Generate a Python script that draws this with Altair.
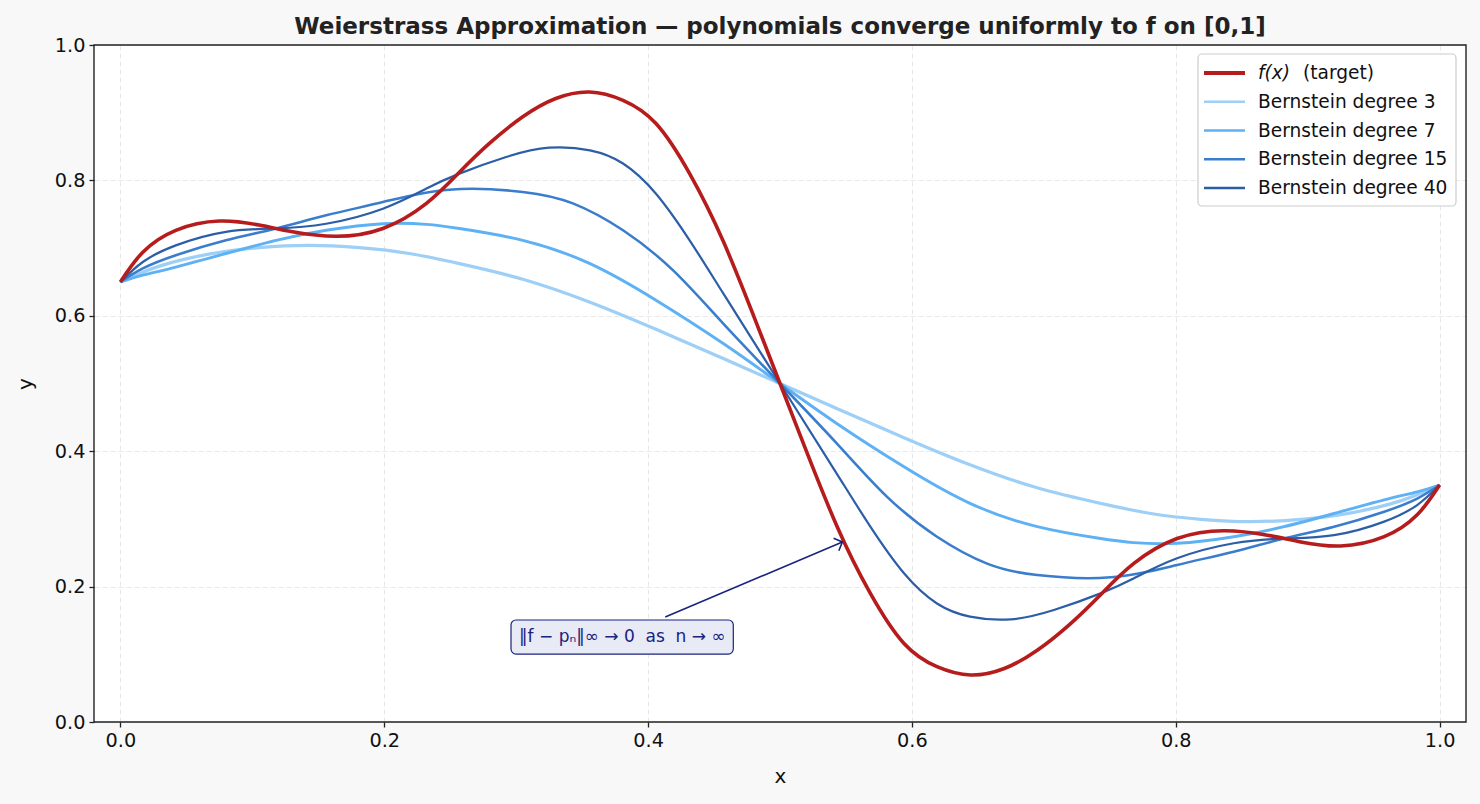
import altair as alt
import pandas as pd

NBSP = "\u00a0"

# Series names, colours and line widths (legend order)
series_names = [
    "f(x)  (target)",
    "Bernstein degree 3",
    "Bernstein degree 7",
    "Bernstein degree 15",
    "Bernstein degree 40",
]
series_colors = ["#b71c1c", "#9ecff7", "#5eb1f4", "#3a7dcd", "#2c5ea8"]
series_widths = [3.6, 2.2, 2.2, 2.2, 2.2]

# Target function f(x)
f_x = [0, 0.017, 0.042, 0.075, 0.1052, 0.1305, 0.1634, 0.199, 0.232, 0.257, 0.2795,
       0.305, 0.330, 0.3556, 0.381, 0.406, 0.4315, 0.457, 0.482, 0.5, 0.518, 0.543,
       0.5685, 0.594, 0.619, 0.6444, 0.670, 0.695, 0.7205, 0.743, 0.768, 0.801,
       0.8366, 0.8695, 0.8948, 0.925, 0.958, 0.983, 1.0]
f_y = [0.650, 0.694, 0.7263, 0.740, 0.734, 0.724, 0.7174, 0.729, 0.766, 0.812, 0.8542,
       0.894, 0.921, 0.9306, 0.9183, 0.884, 0.810, 0.710, 0.590, 0.500, 0.410, 0.290,
       0.190, 0.116, 0.0817, 0.0694, 0.079, 0.106, 0.1458, 0.188, 0.234, 0.271,
       0.2826, 0.276, 0.266, 0.260, 0.2737, 0.306, 0.350]

# Bernstein polynomial of degree 3
b3_x = [0, 0.029, 0.067, 0.105, 0.143, 0.181, 0.219, 0.257, 0.305, 0.356, 0.406, 0.457,
        0.5, 0.543, 0.594, 0.644, 0.695, 0.743, 0.781, 0.819, 0.857, 0.895, 0.933, 0.971, 1.0]
b3_y = [0.650, 0.673, 0.691, 0.7006, 0.704, 0.7006, 0.692, 0.677, 0.654, 0.620, 0.580, 0.537,
        0.500, 0.463, 0.420, 0.380, 0.346, 0.323, 0.308, 0.2994, 0.296, 0.2994, 0.309, 0.327, 0.350]

# Bernstein polynomial of degree 7
b7_x = [0, 0.017, 0.042, 0.080, 0.118, 0.156, 0.199, 0.232, 0.257, 0.305, 0.356, 0.406,
        0.457, 0.5, 0.543, 0.594, 0.644, 0.695, 0.743, 0.768, 0.801, 0.844, 0.882, 0.920,
        0.958, 0.983, 1.0]
b7_y = [0.650, 0.660, 0.672, 0.692, 0.7115, 0.7263, 0.736, 0.735, 0.729, 0.7115, 0.677, 0.623,
        0.559, 0.500, 0.441, 0.377, 0.323, 0.2885, 0.271, 0.265, 0.264, 0.2737, 0.2885, 0.308,
        0.328, 0.340, 0.350]

# Bernstein polynomial of degree 15
b15_x = [0, 0.017, 0.042, 0.080, 0.118, 0.156, 0.199, 0.2492, 0.305, 0.343, 0.381, 0.419,
         0.457, 0.5, 0.543, 0.581, 0.619, 0.657, 0.695, 0.7508, 0.801, 0.844, 0.882, 0.920,
         0.958, 0.983, 1.0]
b15_y = [0.650, 0.670, 0.6894, 0.7115, 0.729, 0.7484, 0.768, 0.7863, 0.783, 0.766, 0.7263, 0.667,
         0.5884, 0.500, 0.4116, 0.333, 0.2737, 0.234, 0.217, 0.2137, 0.232, 0.2516, 0.271, 0.2885,
         0.3106, 0.330, 0.350]

# Bernstein polynomial of degree 40
b40_x = [0, 0.017, 0.042, 0.080, 0.118, 0.156, 0.199, 0.232, 0.257, 0.2924, 0.325, 0.356,
         0.381, 0.406, 0.4315, 0.457, 0.5, 0.543, 0.5685, 0.594, 0.619, 0.644, 0.675, 0.7076,
         0.743, 0.768, 0.801, 0.844, 0.882, 0.920, 0.958, 0.983, 1.0]
b40_y = [0.650, 0.6795, 0.704, 0.724, 0.729, 0.736, 0.7582, 0.788, 0.810, 0.8346, 0.8483, 0.8444,
         0.825, 0.7804, 0.7115, 0.633, 0.500, 0.367, 0.2885, 0.2196, 0.175, 0.1556, 0.1517, 0.1654,
         0.190, 0.212, 0.2418, 0.264, 0.271, 0.276, 0.296, 0.3205, 0.350]

tick_values = [0.0, 0.2, 0.4, 0.6, 0.8, 1.0]

# Annotation: label box, label anchor and arrow
note_text = "‖f − pₙ‖∞ → 0" + NBSP * 2 + "as" + NBSP * 2 + "n → ∞"
note_pos = (0.3805, 0.1256)
note_box_x = (0.2961, 0.4646)
note_box_y = (0.1004, 0.1507)
arrow_from = (0.413, 0.155)
arrow_to = (0.5473, 0.266)

PLOT_W, PLOT_H = 1372, 677
INK = "#222222"
NAVY = "#1a237e"
FONT = "DejaVu Sans"

# Legend layout inside the plot area (pixels from the plot's top-left corner)
LEG_LEFT, LEG_RIGHT, LEG_TOP, LEG_BOTTOM = 1104, 1362, 9, 161
LEG_FIRST_ROW, LEG_ROW_STEP = 28, 28.75
LEG_LINE_X0, LEG_LINE_X1, LEG_TEXT_X = 1110, 1151, 1164

frames = []
for name, xs, ys in [
    (series_names[1], b3_x, b3_y),
    (series_names[2], b7_x, b7_y),
    (series_names[3], b15_x, b15_y),
    (series_names[4], b40_x, b40_y),
    (series_names[0], f_x, f_y),
]:
    frames.append(pd.DataFrame({"x": xs, "y": ys, "series": name}))
curves = pd.concat(frames, ignore_index=True)

x_enc = alt.X(
    "x:Q",
    scale=alt.Scale(domain=[-0.02, 1.02], nice=False, zero=False),
    axis=alt.Axis(values=tick_values, format=".1f", title="x"),
)
y_enc = alt.Y(
    "y:Q",
    scale=alt.Scale(domain=[0, 1], nice=False),
    axis=alt.Axis(values=tick_values, format=".1f", title="y"),
)
color_enc = alt.Color(
    "series:N", scale=alt.Scale(domain=series_names, range=series_colors), legend=None
)
width_enc = alt.StrokeWidth(
    "series:N", scale=alt.Scale(domain=series_names, range=series_widths), legend=None
)

base = alt.Chart(curves).mark_line(interpolate="natural").encode(
    x=x_enc, y=y_enc, color=color_enc, strokeWidth=width_enc, detail="series:N"
)
blue_lines = base.transform_filter(alt.datum.series != series_names[0])
red_line = base.transform_filter(alt.datum.series == series_names[0])

one_row = pd.DataFrame({"k": [0]})

# Axes frame drawn over the curves and grid
frame = alt.Chart(one_row).mark_rect(
    fillOpacity=0, stroke=INK, strokeWidth=1.4
).encode(
    x=alt.value(0), x2=alt.value(PLOT_W), y=alt.value(0), y2=alt.value(PLOT_H)
)

# Legend: box, sample lines and labels
legend_layers = [
    alt.Chart(one_row).mark_rect(
        fill="white", fillOpacity=0.92, stroke="#cccccc", strokeWidth=1.2, cornerRadius=4
    ).encode(
        x=alt.value(LEG_LEFT), x2=alt.value(LEG_RIGHT),
        y=alt.value(LEG_TOP), y2=alt.value(LEG_BOTTOM),
    )
]
for i, (name, col, w) in enumerate(zip(series_names, series_colors, series_widths)):
    row_y = LEG_FIRST_ROW + i * LEG_ROW_STEP
    legend_layers.append(
        alt.Chart(one_row).mark_rule(color=col, strokeWidth=w + 0.3).encode(
            x=alt.value(LEG_LINE_X0), x2=alt.value(LEG_LINE_X1), y=alt.value(row_y)
        )
    )
    if i == 0:
        legend_layers.append(
            alt.Chart(one_row).mark_text(
                font=FONT, fontSize=18.6, fontStyle="italic", color="#111111",
                align="left", baseline="middle",
            ).encode(x=alt.value(LEG_TEXT_X), y=alt.value(row_y), text=alt.value("f(x)"))
        )
        legend_layers.append(
            alt.Chart(one_row).mark_text(
                font=FONT, fontSize=18.6, color="#111111", align="left", baseline="middle",
            ).encode(x=alt.value(LEG_TEXT_X + 45), y=alt.value(row_y), text=alt.value("(target)"))
        )
    else:
        legend_layers.append(
            alt.Chart(one_row).mark_text(
                font=FONT, fontSize=18.6, color="#111111", align="left", baseline="middle",
            ).encode(x=alt.value(LEG_TEXT_X), y=alt.value(row_y), text=alt.value(name))
        )

box_df = pd.DataFrame({"x": [note_box_x[0]], "x2": [note_box_x[1]],
                       "y": [note_box_y[0]], "y2": [note_box_y[1]]})
note_box = alt.Chart(box_df).mark_rect(
    fill="#e8eaf6", stroke=NAVY, strokeWidth=1.2, cornerRadius=5
).encode(x="x:Q", x2="x2:Q", y="y:Q", y2="y2:Q")

text_df = pd.DataFrame({"x": [note_pos[0]], "y": [note_pos[1]], "t": [note_text]})
note_label = alt.Chart(text_df).mark_text(
    font=FONT, fontSize=17, color=NAVY, align="center", baseline="middle"
).encode(x="x:Q", y="y:Q", text="t:N")

arrow_df = pd.DataFrame({"x": [arrow_from[0]], "y": [arrow_from[1]],
                         "x2": [arrow_to[0]], "y2": [arrow_to[1]]})
arrow_line = alt.Chart(arrow_df).mark_rule(color=NAVY, strokeWidth=1.6).encode(
    x="x:Q", y="y:Q", x2="x2:Q", y2="y2:Q"
)
head_df = pd.DataFrame({"x": [arrow_to[0]], "y": [arrow_to[1]]})
arrow_head = alt.Chart(head_df).mark_point(
    shape="M -1 -1 L 0 0 L -1 1", filled=False, size=180, angle=337,
    stroke=NAVY, strokeWidth=1.6, opacity=1,
).encode(x="x:Q", y="y:Q")

chart = alt.layer(
    blue_lines, red_line, frame, note_box, note_label, arrow_line, arrow_head,
    *legend_layers
).properties(
    width=PLOT_W,
    height=PLOT_H,
    autosize=alt.AutoSizeParams(type="none"),
    padding={"left": 94, "top": 45, "right": 14, "bottom": 82},
    background="#f8f8f8",
    title=alt.TitleParams(
        "Weierstrass Approximation — polynomials converge uniformly to f on [0,1]",
        font=FONT, fontSize=23, fontWeight="bold", color=INK,
        anchor="middle", offset=-3,
    ),
).configure_view(
    fill="white", stroke=None
).configure_axis(
    domain=False,
    grid=True, gridColor="#e8e8e8", gridDash=[5, 3], gridWidth=1,
    ticks=True, tickColor=INK, tickSize=5, tickWidth=1.3,
    labelFont=FONT, labelFontSize=19.3, labelColor="#111111", labelPadding=4,
    titleFont=FONT, titleFontSize=20, titleFontWeight="normal", titleColor="#111111",
).configure_axisX(titlePadding=16).configure_axisY(titlePadding=19)

chart.save("out.html", embed_options={"renderer": "svg", "actions": False})
